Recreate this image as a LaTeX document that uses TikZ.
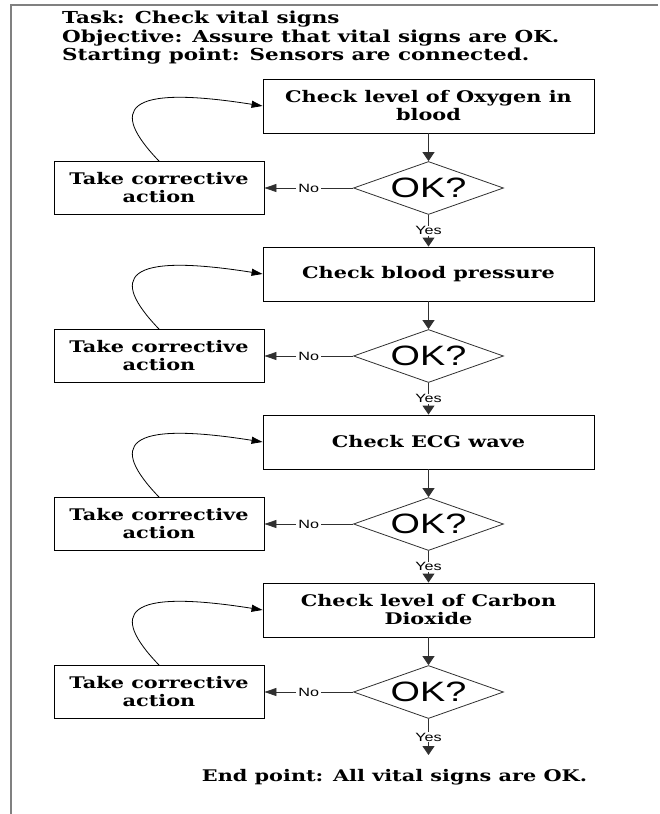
\documentclass[tikz,border=0pt]{standalone}
\usepackage{fontspec}
\usetikzlibrary{shapes.geometric,arrows.meta}
% Wide bold serif for headings and boxes, wide sans for the decision labels
\newfontfamily\flowserif[FakeStretch=1.3]{DejaVu Serif}
\newfontfamily\flowsans[FakeStretch=1.35]{Liberation Sans}
\definecolor{framegray}{HTML}{808080}
\definecolor{linegray}{HTML}{303030}

\begin{document}
\begin{tikzpicture}[x=1pt,y=-1pt,
  every node/.style={inner sep=0pt},
  serifbold/.style={font=\flowserif\bfseries\fontsize{16}{18}\selectfont},
  checkbox/.style={serifbold, draw=black, line width=0.9pt,
    minimum width=331pt, minimum height=54pt, align=center},
  fixbox/.style={checkbox, minimum width=210pt, minimum height=53pt},
  okdia/.style={diamond, draw=linegray, line width=0.8pt, aspect=2.83,
    minimum width=150pt, minimum height=53pt,
    label={center:{\flowsans\fontsize{28}{28}\selectfont OK?}}},
  flow/.style={draw=linegray, line width=0.9pt,
    -{Triangle[length=9pt,width=12pt]}},
  noflow/.style={draw=linegray, line width=0.8pt,
    -{Triangle[length=12pt,width=8pt]}},
  loopback/.style={draw=black, line width=0.8pt,
    -{Triangle[length=11pt,width=7pt]}},
  branch/.style={fill=white, inner xsep=2pt, inner ysep=1pt,
    font=\flowsans\fontsize{12}{13}\selectfont}
]
\useasboundingbox (0,0) rectangle (659,814);

% page frame (left and top edges only)
\draw[framegray, line width=2pt] (11,814) -- (11,5) -- (658,5);

% heading
\node[anchor=west, align=left,
      font=\flowserif\bfseries\fontsize{16.5}{18.5}\selectfont] (head) at (62,38)
  {Task: Check vital signs\\
   Objective: Assure that vital signs are OK.\\
   Starting point: Sensors are connected.};

% checks
\node[checkbox] (b1) at (428.5,106) {Check level of Oxygen in\\blood};
\node[checkbox] (b2) at (428.5,274) {Check blood pressure};
\node[checkbox] (b3) at (428.5,442) {Check ECG wave};
\node[checkbox] (b4) at (428.5,610) {Check level of Carbon\\Dioxide};

% decisions
\node[okdia] (d1) at (428.5,188) {};
\node[okdia] (d2) at (428.5,356) {};
\node[okdia] (d3) at (428.5,524) {};
\node[okdia] (d4) at (428.5,692) {};

% corrective actions
\node[fixbox] (c1) at (159,188) {Take corrective\\action};
\node[fixbox] (c2) at (159,356) {Take corrective\\action};
\node[fixbox] (c3) at (159,524) {Take corrective\\action};
\node[fixbox] (c4) at (159,692) {Take corrective\\action};

\coordinate (fin) at (428.5,755);
\node[serifbold] (endpt) at (394.5,777) {End point: All vital signs are OK.};

% main flow
\foreach \i/\j in {1/2,2/3,3/4}{
  \draw[flow] (b\i.south) -- (d\i.north);
  \draw[flow] (d\i.south) -- node[branch]{Yes} (b\j.north);
}
\draw[flow] (b4.south) -- (d4.north);
\draw[flow] (d4.south) -- node[branch]{Yes} (fin);

% failed checks and the way back
\foreach \i in {1,2,3,4}{
  \draw[noflow] (d\i.west) -- node[branch]{No} (c\i.east);
  \draw[loopback] (c\i.north) .. controls +(-50,-52) and +(-139,-22) .. (b\i.west);
}
\end{tikzpicture}
\end{document}
